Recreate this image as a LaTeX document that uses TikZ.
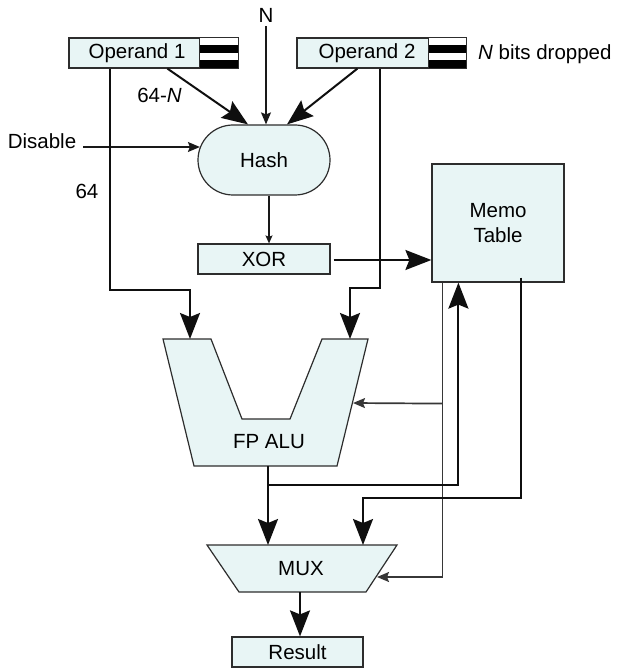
\documentclass[tikz,border=0pt]{standalone}
\usepackage{fontspec}
\setmainfont{Liberation Sans}
\usetikzlibrary{arrows.meta,shapes.misc,calc}
\definecolor{boxfill}{RGB}{232,245,245}
\definecolor{edge}{RGB}{45,45,45}
\definecolor{wire}{RGB}{15,15,15}
\definecolor{thinwire}{RGB}{25,25,25}
\definecolor{greywire}{RGB}{55,55,55}
% striped "dropped bits" field at the end of an operand register
\newcommand\dropbits[1]{%
  \fill[black] ($(#1.north west)+(0,7.5)$) rectangle ($(#1.north east)+(0,15)$);
  \fill[black] ($(#1.north west)+(0,22.5)$) rectangle ($(#1.north east)+(0,30)$);
  \draw[draw=edge, line width=1.2pt] (#1.north west) rectangle (#1.south east);}
\begin{document}
\begin{tikzpicture}[x=1pt,y=-1pt,
  lbl/.style={font=\fontsize{20.5}{25}\selectfont, inner sep=0pt},
  box/.style={draw=edge, line width=1.2pt, fill=boxfill, inner sep=0pt, lbl},
  bitsbox/.style={fill=white, inner sep=0pt, minimum height=30pt},
  wirethick/.style={draw=wire, line width=2pt},
  wirethin/.style={draw=thinwire, line width=1.2pt},
  wiregrey/.style={draw=greywire, line width=1.7pt},
  bigtip/.style={-{Stealth[length=26pt,width=20pt,inset=4pt]}},
  smalltip/.style={-{Stealth[length=12pt,width=10pt,inset=2pt]}},
  tinytip/.style={-{Stealth[length=8pt,width=7pt,inset=1.5pt]}},
]
\useasboundingbox (0,0) rectangle (617,668);

% operand registers
\node[box, minimum width=131pt, minimum height=30pt] (op1) at (134.5,53) {\hspace*{5pt}Operand 1};
\node[bitsbox, minimum width=38pt] (op1bits) at (219,53) {};
\dropbits{op1bits}
\node[box, minimum width=132pt, minimum height=30pt] (op2) at (363,53) {\hspace*{8pt}Operand 2};
\node[bitsbox, minimum width=37pt] (op2bits) at (447.5,53) {};
\dropbits{op2bits}
\node[lbl, anchor=west] (nbits) at (478,54) {\textit{N} bits dropped};

% labels
\node[lbl, inner sep=4pt] (nin) at (266,15) {N};
\node[lbl] (w64n) at (159.5,95.5) {64-\textit{N}};
\node[lbl] (w64) at (87,191) {64};
\node[lbl] (dis) at (42,141) {Disable};

% hash unit, xor and memo table
\node[box, rounded rectangle, minimum width=132pt, minimum height=70pt] (hash) at (264,160) {Hash};
\node[box, minimum width=132pt, minimum height=30pt] (xor) at (264,259) {XOR};
\node[box, minimum width=132pt, minimum height=118pt, align=center] (memo) at (498,223) {Memo\\Table};

% floating-point ALU
\draw[draw=edge, line width=1.2pt, fill=boxfill]
  (163,339) -- (211,339) -- (242,419) -- (290,419) -- (322,339) -- (368,339)
  -- (337,466) -- (194,466) -- cycle;
\node[lbl] (alu) at (269,442) {FP ALU};
\coordinate (aluA) at (190,339);
\coordinate (aluB) at (350,339);
\coordinate (aluR) at (353,403);
\coordinate (aluO) at (268,466);

% multiplexer
\draw[draw=edge, line width=1.2pt, fill=boxfill]
  (207,545) -- (397,545) -- (366,592) -- (239,592) -- cycle;
\node[lbl] (mux) at (301,569) {MUX};
\coordinate (muxA) at (268,545);
\coordinate (muxB) at (363,545);
\coordinate (muxR) at (377,577);
\coordinate (muxO) at (300,592);

\node[box, minimum width=131pt, minimum height=30pt] (res) at (297.5,652) {Result};

% wiring
\draw[wirethin, smalltip] (nin.south) -- (nin.south |- hash.north);
\draw[wirethick, bigtip] ($(op1.south west)+(99,0)$) -- ($(hash.north)+(-16,0)$);
\draw[wirethick, bigtip] ($(op2.south west)+(61,0)$) -- ($(hash.north)+(23,0)$);
\draw[wirethin, smalltip] ($(dis.east)+(7,6)$) -- ($(hash.west)+(2.5,-13)$);

\draw[wirethick, bigtip] ($(op1.south west)+(42,0)$) |- ($(aluA)+(0,-49)$) -- (aluA);
\draw[wirethick, bigtip] ($(op2.south west)+(84,0)$) |- ($(aluB)+(0,-51)$) -- (aluB);

\draw[wirethin, tinytip] ($(hash.south)+(5,0)$) -- ($(xor.north)+(5,0)$);
\draw[wirethick, bigtip] ($(xor.east)+(3,1)$) -- ($(memo.west)+(0,37)$);

\draw[wiregrey, smalltip] ($(memo.south west)+(11,0)$) |- (muxR);
\draw[wiregrey, smalltip] ($(memo.south west)+(11,121)$) -- (aluR);

\draw[wirethick, bigtip] (aluO) -- (muxA);
\draw[wirethick, bigtip] ($(aluO)+(0,19)$) -| ($(memo.south west)+(27,0)$);
\draw[wirethick, bigtip] ($(memo.south west)+(90,-5)$) |- ($(muxB)+(0,-47)$) -- (muxB);

\draw[wirethick, bigtip] (muxO) -- (res.north -| muxO);
\end{tikzpicture}
\end{document}
